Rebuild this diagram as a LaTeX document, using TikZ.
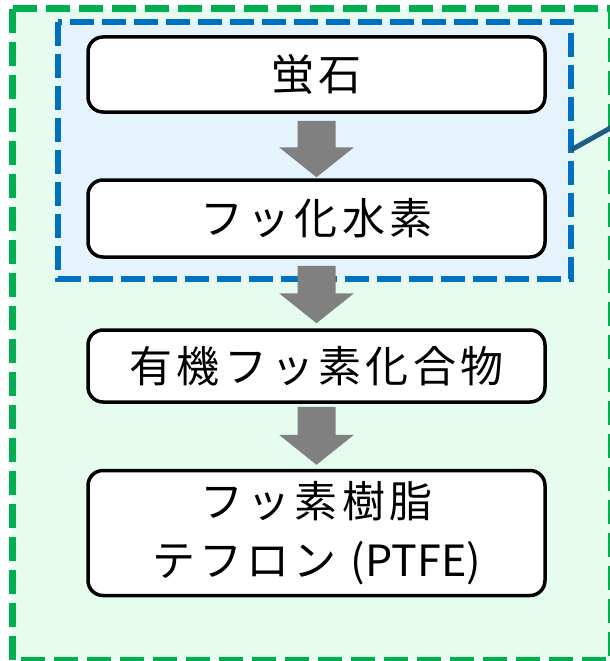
\documentclass[tikz,border=0pt]{standalone}
\usepackage{fontspec}
\usetikzlibrary{calc}
\newfontfamily\jpfont[LetterSpace=10]{Noto Sans CJK JP}
\newfontfamily\jplatin{Noto Sans CJK JP}
\definecolor{grnline}{RGB}{0,176,80}
\definecolor{grnfill}{RGB}{229,252,239}
\definecolor{bluline}{RGB}{0,112,192}
\definecolor{blufill}{RGB}{229,243,253}
\definecolor{tealline}{RGB}{27,94,130}
\definecolor{arrgray}{RGB}{128,128,128}
\tikzset{
  stepbox/.style={draw=black, fill=white, line width=3.5pt, rounded corners=15pt,
    minimum width=457pt, inner sep=0pt, align=center,
    font=\jpfont\fontsize{43}{59}\selectfont},
  blockarrow/.style={fill=arrgray, draw=none,
    to path={let \p1=(\tikztostart), \p2=(\tikztotarget) in
      (\x1-19pt,\y1) -- (\x1+19pt,\y1) -- (\x1+19pt,\y2+30pt) -- (\x1+37.5pt,\y2+30pt)
      -- (\x1,\y2) -- (\x1-37.5pt,\y2+30pt) -- (\x1-19pt,\y2+30pt) -- cycle}},
  grnframe/.style={draw=grnline, fill=grnfill, line width=7pt, dash pattern=on 24pt off 9pt},
  bluframe/.style={draw=bluline, fill=blufill, line width=6pt, dash pattern=on 24pt off 8pt},
  tealconn/.style={draw=tealline, line width=5pt}
}
\begin{document}
\begin{tikzpicture}[x=1pt,y=-1pt]
\useasboundingbox (0,0) rectangle (610,661);
\draw[grnframe] (12,9) rectangle (611,660);
\draw[bluframe] (58,22) rectangle (571,279);
\coordinate (grpE) at (571,150);
\coordinate (tail) at (614,126);
\draw[tealconn] (grpE) -- (tail);
\node[stepbox, minimum height=75pt] (b1) at (316.5,74.5) {蛍石};
\node[stepbox, minimum height=77pt] (b2) at (316.5,218.5) {フッ化水素};
\node[stepbox, minimum height=72pt] (b3) at (316.5,366) {有機フッ素化合物};
\node[stepbox, minimum height=125pt] (b4) at (316.5,533) {フッ素樹脂\\テフロン {\jplatin (PTFE)}};
\path[blockarrow] ($(b1.south)+(0,7)$) to ($(b2.north)+(0,-1)$);
\path[blockarrow] ($(b2.south)+(0,7)$) to ($(b3.north)+(0,-5)$);
\path[blockarrow] ($(b3.south)+(0,3)$) to ($(b4.north)+(0,-4)$);
\end{tikzpicture}
\end{document}
